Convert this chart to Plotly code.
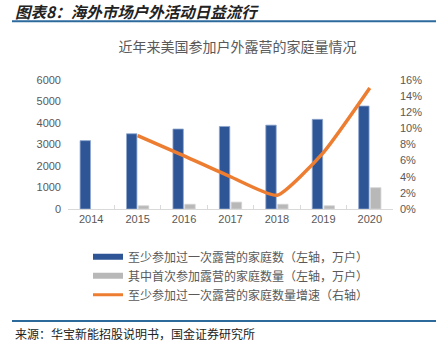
import plotly.graph_objects as go

years = ["2014", "2015", "2016", "2017", "2018", "2019", "2020"]
households = [3180, 3500, 3720, 3840, 3900, 4170, 4790]
first_time = [None, 150, 220, 320, 220, 150, 990]
growth = [None, 0.091, 0.066, 0.040, 0.017, 0.070, 0.150]

name_blue = "至少参加过一次露营的家庭数（左轴，万户）"
name_gray = "其中首次参加露营的家庭数量（左轴，万户）"
name_line = "至少参加过一次露营的家庭数量增速（右轴）"

BLUE = "#2E5596"
GRAY = "#B8B8B8"
ORANGE = "#ED7D31"
TXT = "#595959"
CJK = "Noto Sans CJK SC"

W, H = 436, 348
L, R, T, B = 68, 43, 80, 138.5

def px_x(x):
    return (x - L) / (W - L - R)

def px_y(y):
    return (H - B - y) / (H - T - B)

fig = go.Figure()
fig.add_trace(go.Bar(x=years, y=households, marker=dict(color=BLUE, line=dict(color="#8FA7CF", width=0.8)),
                     showlegend=False, yaxis="y"))
fig.add_trace(go.Bar(x=years, y=first_time, marker=dict(color=GRAY, line=dict(color="#D3D3D3", width=0.8)),
                     showlegend=False, yaxis="y"))
fig.add_trace(go.Scatter(x=years, y=growth, mode="lines", line=dict(color=ORANGE, width=3.5, shape="spline", smoothing=0.5),
                         showlegend=False, yaxis="y2", connectgaps=False))

# legend entries
fig.add_trace(go.Scatter(x=[None], y=[None], mode="lines", line=dict(color=BLUE, width=6), name=name_blue))
fig.add_trace(go.Scatter(x=[None], y=[None], mode="lines", line=dict(color=GRAY, width=6), name=name_gray))
fig.add_trace(go.Scatter(x=[None], y=[None], mode="lines", line=dict(color=ORANGE, width=3), name=name_line))

fig.update_layout(
    width=W, height=H,
    margin=dict(l=L, r=R, t=T, b=B),
    paper_bgcolor="white", plot_bgcolor="white",
    font=dict(family=CJK, color=TXT, size=11),
    barmode="group", bargap=0.49, bargroupgap=0.12,
    title=dict(text="近年来美国参加户外露营的家庭量情况", x=0.545, xanchor="center",
               y=1 - 47 / H, yanchor="middle", font=dict(size=14, color=TXT, family=CJK)),
    xaxis=dict(type="category", showgrid=False, showline=True, linecolor="#D9D9D9", linewidth=1.2,
               ticks="inside", ticklen=4, tickcolor="#D9D9D9", tickson="boundaries",
               tickfont=dict(size=11, color=TXT, family="Liberation Sans")),
    yaxis=dict(range=[0, 6000], dtick=1000, showgrid=False, zeroline=False, showline=False,
               tickfont=dict(size=11, color=TXT, family="Liberation Sans"), ticks="", ticklabelstandoff=6),
    yaxis2=dict(range=[0, 0.16], dtick=0.02, tickformat=".0%", overlaying="y", side="right",
                showgrid=False, zeroline=False, showline=False,
                tickfont=dict(size=11, color=TXT, family="Liberation Sans"), ticklabelstandoff=6),
    legend=dict(x=px_x(88), y=px_y(243), xanchor="left", yanchor="top", orientation="v",
                font=dict(size=12, color=TXT, family=CJK), itemwidth=30, tracegroupgap=0,
                bgcolor="rgba(0,0,0,0)"),
    showlegend=True,
)

fig.add_annotation(text="<b><i>图表8：海外市场户外活动日益流行</i></b>", xref="paper", yref="paper",
                   x=px_x(13), y=px_y(11), xanchor="left", yanchor="middle", showarrow=False,
                   font=dict(size=15.5, color="#222222", family=CJK))
fig.add_shape(type="line", xref="paper", yref="paper", x0=px_x(12), x1=px_x(436), y0=px_y(21), y1=px_y(21),
              line=dict(color="#2C6A9C", width=2))
fig.add_shape(type="line", xref="paper", yref="paper", x0=px_x(12), x1=px_x(436), y0=px_y(322), y1=px_y(322),
              line=dict(color="#2C6A9C", width=2))
fig.add_annotation(text="来源：华宝新能招股说明书，国金证券研究所", xref="paper", yref="paper",
                   x=px_x(13), y=px_y(334), xanchor="left", yanchor="middle", showarrow=False,
                   font=dict(size=12, color="#222222", family=CJK))

fig.write_html("out.html")
